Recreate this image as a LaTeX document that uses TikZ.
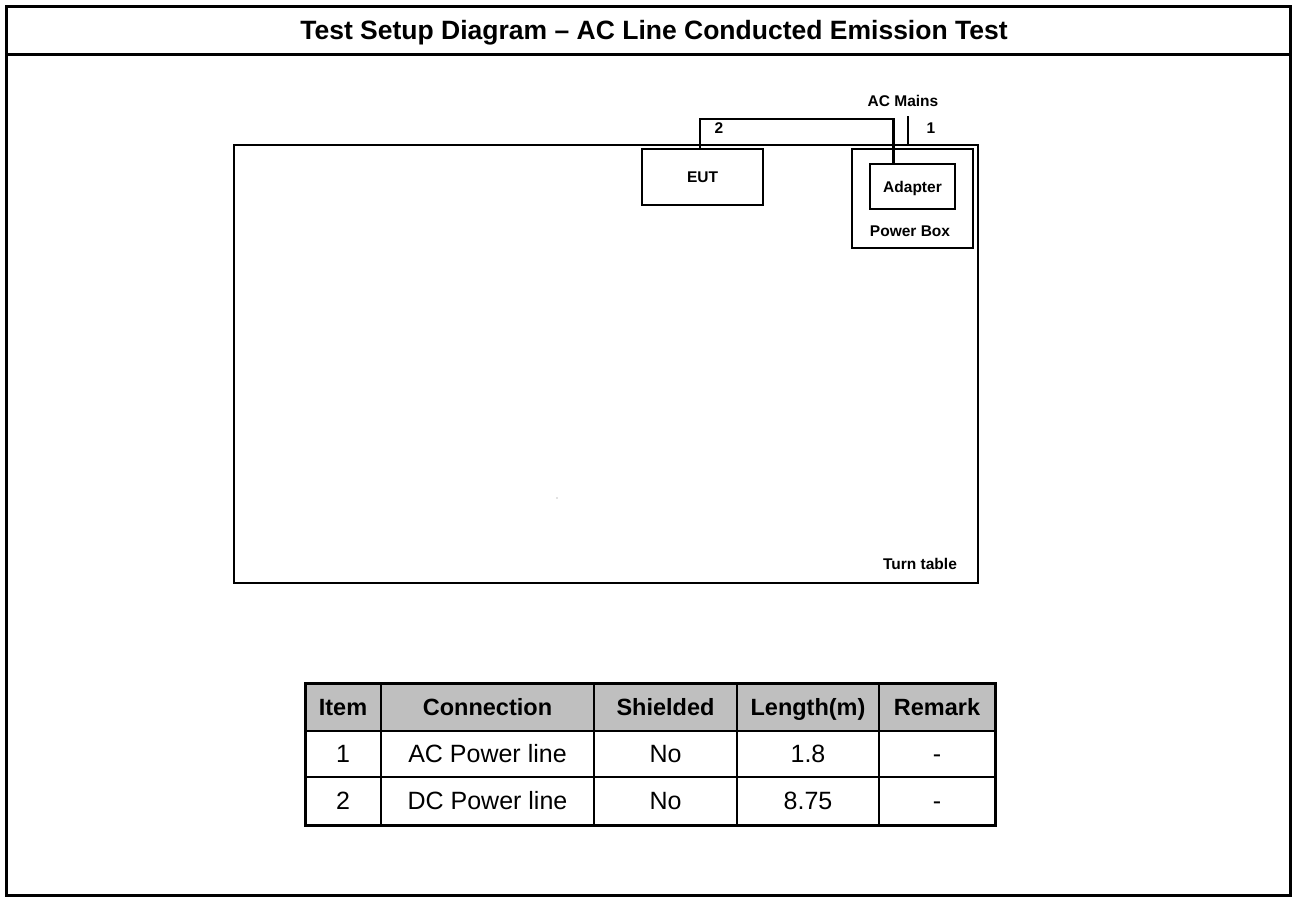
\documentclass[tikz,border=0pt]{standalone}
\usepackage{fontspec}
\setmainfont{Liberation Sans}
\usetikzlibrary{calc}
\begin{document}
\begin{tikzpicture}[x=1pt,y=-1pt,
  frame/.style={draw=black,line width=3pt},
  small/.style={font=\fontsize{15.5}{18}\selectfont\bfseries,text height=11.1pt,text depth=0pt},
  head/.style={font=\fontsize{23.5}{27}\selectfont\bfseries,text height=16.8pt,text depth=0pt},
  cell/.style={font=\fontsize{25}{29}\selectfont,text height=17.9pt,text depth=0pt},
  grid/.style={draw=black,line width=2pt},
  tborder/.style={draw=black,line width=3pt},
  cable/.style={draw=black,line width=2.8pt},
  boxline/.style={draw=black,line width=2.8pt,inner sep=0pt}]
\useasboundingbox (0,0) rectangle (1293,898);
% outer frame and title
\draw[frame] (6,6) rectangle (1290,895);
\draw[frame] (6,54) -- (1290,54);
\node[font=\fontsize{26.5}{30}\selectfont\bfseries,text height=19pt,text depth=0pt] (title) at (654,30) {Test Setup Diagram – AC Line Conducted Emission Test};
% turn table
\node[boxline,minimum width=744pt,minimum height=438pt] (tt) at (606,364) {};
\node[small] (ttl) at (920,564) {Turn table};
% EUT
\node[boxline,minimum width=121pt,minimum height=56pt,small] (eut) at (702.5,177) {EUT};
% power box
\node[boxline,minimum width=121pt,minimum height=99pt] (pbox) at (912.5,198.5) {};
\node[small] (pbl) at (910,231) {Power Box};
\node[boxline,minimum width=85pt,minimum height=45pt,small] (adapter) at (912.5,186.5) {Adapter};
% cables
\coordinate (c2a) at ($(eut.north)+(-2.5,0)$);
\coordinate (c2top) at (700,119);
\coordinate (c2b) at ($(adapter.north west)+(25,0)$);
\draw[cable] (c2a) -- (c2top) -| (c2b);
\coordinate (acm) at (908,116);
\draw[cable] (acm) -- (acm |- tt.north);
\node[small] (acml) at (903,101) {AC Mains};
\node[small] (l1) at (931,128) {1};
\node[small] (l2) at (719,128) {2};
\fill[gray] (557,498) circle (0.6);
% table
\fill[black!25] (305,683) rectangle (995,731);
\foreach \x in {381,594,737,879} \draw[grid] (\x,683) -- (\x,825);
\foreach \y in {731,777} \draw[grid] (305,\y) -- (995,\y);
\draw[tborder] (305,683) rectangle (995,825);
\node[head] (h1) at (343,707) {Item};
\node[head] (h2) at (487.5,707) {Connection};
\node[head] (h3) at (665.5,707) {Shielded};
\node[head] (h4) at (808,707) {Length(m)};
\node[head] (h5) at (937,707) {Remark};
\node[cell] (a1) at (343,754) {1};
\node[cell] (a2) at (487.5,754) {AC Power line};
\node[cell] (a3) at (665.5,754) {No};
\node[cell] (a4) at (808,754) {1.8};
\node[cell] (a5) at (937,754) {-};
\node[cell] (b1) at (343,801) {2};
\node[cell] (b2) at (487.5,801) {DC Power line};
\node[cell] (b3) at (665.5,801) {No};
\node[cell] (b4) at (808,801) {8.75};
\node[cell] (b5) at (937,801) {-};
\end{tikzpicture}
\end{document}
